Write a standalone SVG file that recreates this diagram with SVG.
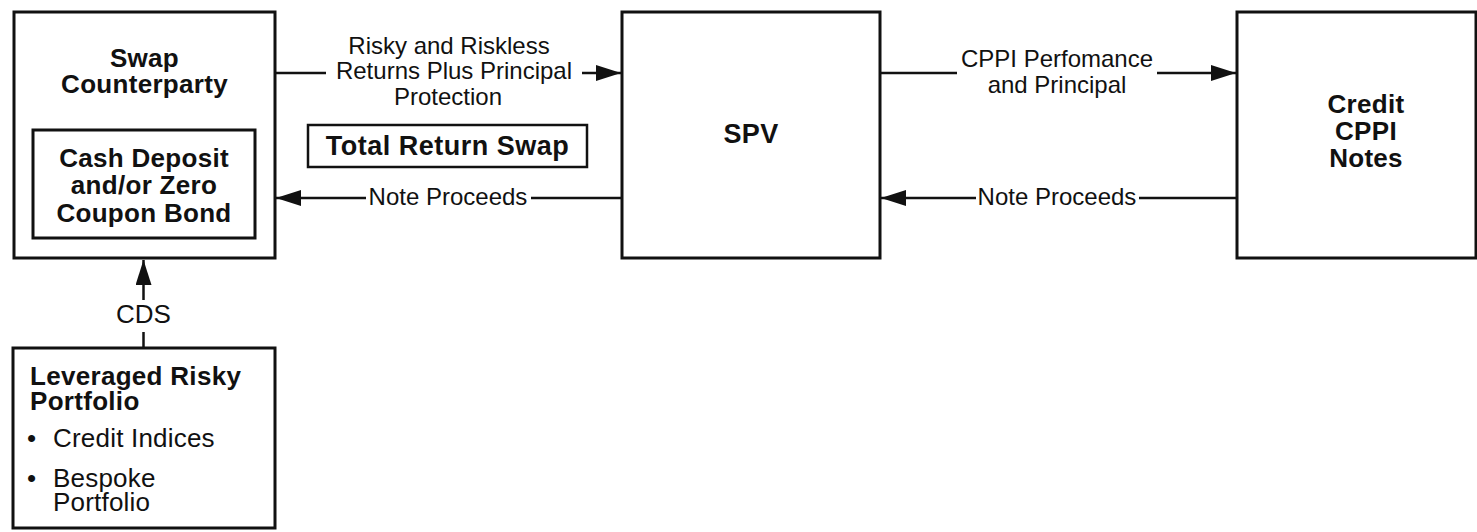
<svg xmlns="http://www.w3.org/2000/svg" width="1477" height="532" viewBox="0 0 1477 532">
<style>
.box{fill:#fff;stroke:#111;stroke-width:3}
.ln{fill:none;stroke:#111;stroke-width:2.5}
.b{font-family:"Liberation Sans",Arial,sans-serif;font-weight:bold;font-size:26px;letter-spacing:0.3px;fill:#111;text-anchor:middle}
.bl{font-family:"Liberation Sans",Arial,sans-serif;font-weight:bold;font-size:26px;letter-spacing:0.3px;fill:#111;text-anchor:start}
.r{font-family:"Liberation Sans",Arial,sans-serif;font-size:24px;fill:#111;text-anchor:middle}
.rl{font-family:"Liberation Sans",Arial,sans-serif;font-size:26px;letter-spacing:0.2px;fill:#111;text-anchor:start}
</style>
<defs>
<marker id="ah" viewBox="0 0 25 16" refX="25" refY="8" markerWidth="25" markerHeight="16" markerUnits="userSpaceOnUse" orient="auto">
<path d="M0,0 L25,8 L0,16 Z" fill="#111"/>
</marker>
</defs>
<rect width="1477" height="532" fill="#fff"/>
<g id="swap-counterparty">
<rect class="box" x="14" y="12" width="261" height="246"/>
<text class="b" x="144.5" y="67">Swap</text>
<text class="b" x="144.5" y="93">Counterparty</text>
</g>
<g id="cash-deposit">
<rect class="box" x="33" y="130" width="222" height="108"/>
<text class="b" x="144" y="167">Cash Deposit</text>
<text class="b" x="144" y="194">and/or Zero</text>
<text class="b" x="144" y="222">Coupon Bond</text>
</g>
<g id="spv">
<rect class="box" x="622" y="12" width="258" height="246"/>
<text class="b" x="751" y="143" style="font-size:27px">SPV</text>
</g>
<g id="credit-cppi-notes">
<rect class="box" x="1237" y="12" width="239" height="246"/>
<text class="b" x="1366" y="113">Credit</text>
<text class="b" x="1366" y="140">CPPI</text>
<text class="b" x="1366" y="167">Notes</text>
</g>
<g id="total-return-swap">
<rect class="box" x="308" y="125" width="279" height="42" style="stroke-width:2.5"/>
<text class="b" x="447.5" y="155" style="font-size:27px;letter-spacing:0.5px">Total Return Swap</text>
</g>
<g id="leveraged-risky-portfolio">
<rect class="box" x="13" y="348" width="262" height="180"/>
<text class="bl" x="30" y="385">Leveraged Risky</text>
<text class="bl" x="30" y="410">Portfolio</text>
<text class="rl" x="27" y="447">•</text>
<text class="rl" x="53" y="447">Credit Indices</text>
<text class="rl" x="27" y="487">•</text>
<text class="rl" x="53" y="487">Bespoke</text>
<text class="rl" x="53" y="511">Portfolio</text>
</g>
<g id="connectors">
<line class="ln" x1="275" y1="73" x2="326" y2="73"/>
<line class="ln" x1="582" y1="73" x2="621" y2="73" marker-end="url(#ah)"/>
<line class="ln" x1="622" y1="198" x2="531" y2="198"/>
<line class="ln" x1="366" y1="198" x2="276" y2="198" marker-end="url(#ah)"/>
<line class="ln" x1="880" y1="73" x2="957" y2="73"/>
<line class="ln" x1="1157" y1="73" x2="1236" y2="73" marker-end="url(#ah)"/>
<line class="ln" x1="1237" y1="198" x2="1139" y2="198"/>
<line class="ln" x1="976" y1="198" x2="881" y2="198" marker-end="url(#ah)"/>
<line class="ln" x1="143.5" y1="348" x2="143.5" y2="332"/>
<line class="ln" x1="143.5" y1="300" x2="143.5" y2="260" marker-end="url(#ah)"/>
<text class="r" x="449" y="54">Risky and Riskless</text>
<text class="r" x="454" y="79">Returns Plus Principal</text>
<text class="r" x="448" y="105">Protection</text>
<text class="r" x="448" y="205">Note Proceeds</text>
<text class="r" x="1057" y="67">CPPI Perfomance</text>
<text class="r" x="1057" y="93">and Principal</text>
<text class="r" x="1057" y="205">Note Proceeds</text>
<text class="r" x="143.5" y="323" style="font-size:26px">CDS</text>
</g>
</svg>
